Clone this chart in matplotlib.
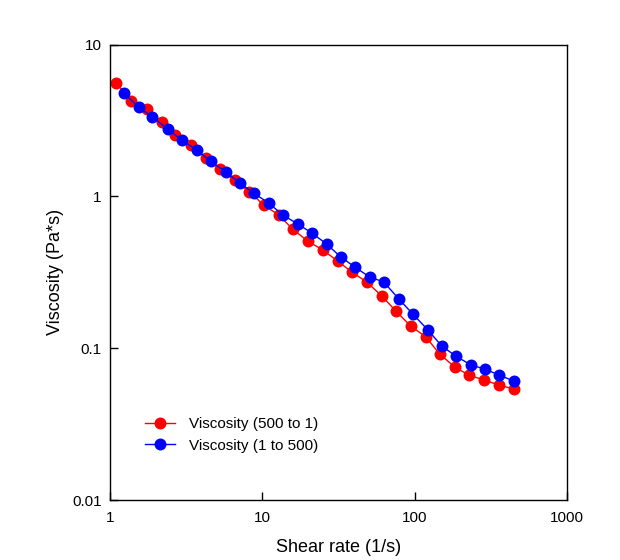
import numpy as np
import matplotlib
import matplotlib.pyplot as plt
from matplotlib.ticker import FixedLocator, FixedFormatter, NullLocator

matplotlib.rc('font', family='Liberation Sans', size=11)

# viscosity, decreasing ramp (500 to 1)
rate_down = [1.10, 1.38, 1.74, 2.18, 2.69, 3.38, 4.24, 5.24, 6.57, 8.23,
             10.2, 12.8, 15.8, 19.8, 24.9, 31.2, 38.6, 48.4, 60.8, 75.1,
             94.2, 118, 146, 183, 226, 284, 357, 448]
visc_down = [5.58, 4.25, 3.76, 3.09, 2.54, 2.18, 1.79, 1.52, 1.28, 1.07,
             0.878, 0.754, 0.610, 0.508, 0.444, 0.375, 0.318, 0.273, 0.221, 0.176,
             0.140, 0.119, 0.0916, 0.0752, 0.0666, 0.0618, 0.0572, 0.0538]

# viscosity, increasing ramp (1 to 500)
rate_up = [1.23, 1.54, 1.90, 2.39, 2.95, 3.70, 4.57, 5.74, 7.09, 8.77,
           11.0, 13.6, 17.1, 21.1, 26.4, 32.7, 40.4, 50.7, 62.7, 78.7,
           97.2, 122, 151, 186, 234, 289, 357, 448]
visc_up = [4.80, 3.88, 3.33, 2.78, 2.35, 2.02, 1.71, 1.45, 1.23, 1.05,
           0.905, 0.754, 0.658, 0.574, 0.486, 0.399, 0.343, 0.294, 0.273, 0.211,
           0.168, 0.132, 0.103, 0.0889, 0.0775, 0.0729, 0.0666, 0.0608]

xticks = [1, 10, 100, 1000]
xlabels = ['1', '10', '100', '1000']
yticks = [0.01, 0.1, 1, 10]
ylabels = ['0.01', '0.1', '1', '10']

fig = plt.figure(figsize=(6.2, 5.6), dpi=100)
ax = fig.add_axes([0.1774, 0.1071, 0.7371, 0.8134])

ax.plot(rate_down, visc_down, '-o', color='red', lw=1, ms=8.6,
        mec='none', label='Viscosity (500 to 1)')
ax.plot(rate_up, visc_up, '-o', color='blue', lw=1, ms=8.6,
        mec='none', label='Viscosity (1 to 500)')

ax.set_xscale('log')
ax.set_yscale('log')
ax.set_xlim(1, 1000)
ax.set_ylim(0.01, 10)

ax.xaxis.set_major_locator(FixedLocator(xticks))
ax.xaxis.set_major_formatter(FixedFormatter(xlabels))
ax.yaxis.set_major_locator(FixedLocator(yticks))
ax.yaxis.set_major_formatter(FixedFormatter(ylabels))
ax.xaxis.set_minor_locator(NullLocator())
ax.yaxis.set_minor_locator(NullLocator())
ax.tick_params(direction='in', length=6, width=1, labelsize=11)
ax.tick_params(axis='x', pad=8)
ax.tick_params(axis='y', pad=6)

for s in ax.spines.values():
    s.set_linewidth(1)

ax.set_xlabel('Shear rate (1/s)', fontsize=13, labelpad=10)
ax.set_ylabel('Viscosity (Pa*s)', fontsize=13, labelpad=6)

ax.legend(loc='upper left', bbox_to_anchor=(0.046, 0.212), frameon=False,
          fontsize=11, handlelength=2.0, handletextpad=0.9, labelspacing=0.5)

fig.savefig('out.png', dpi=100)
